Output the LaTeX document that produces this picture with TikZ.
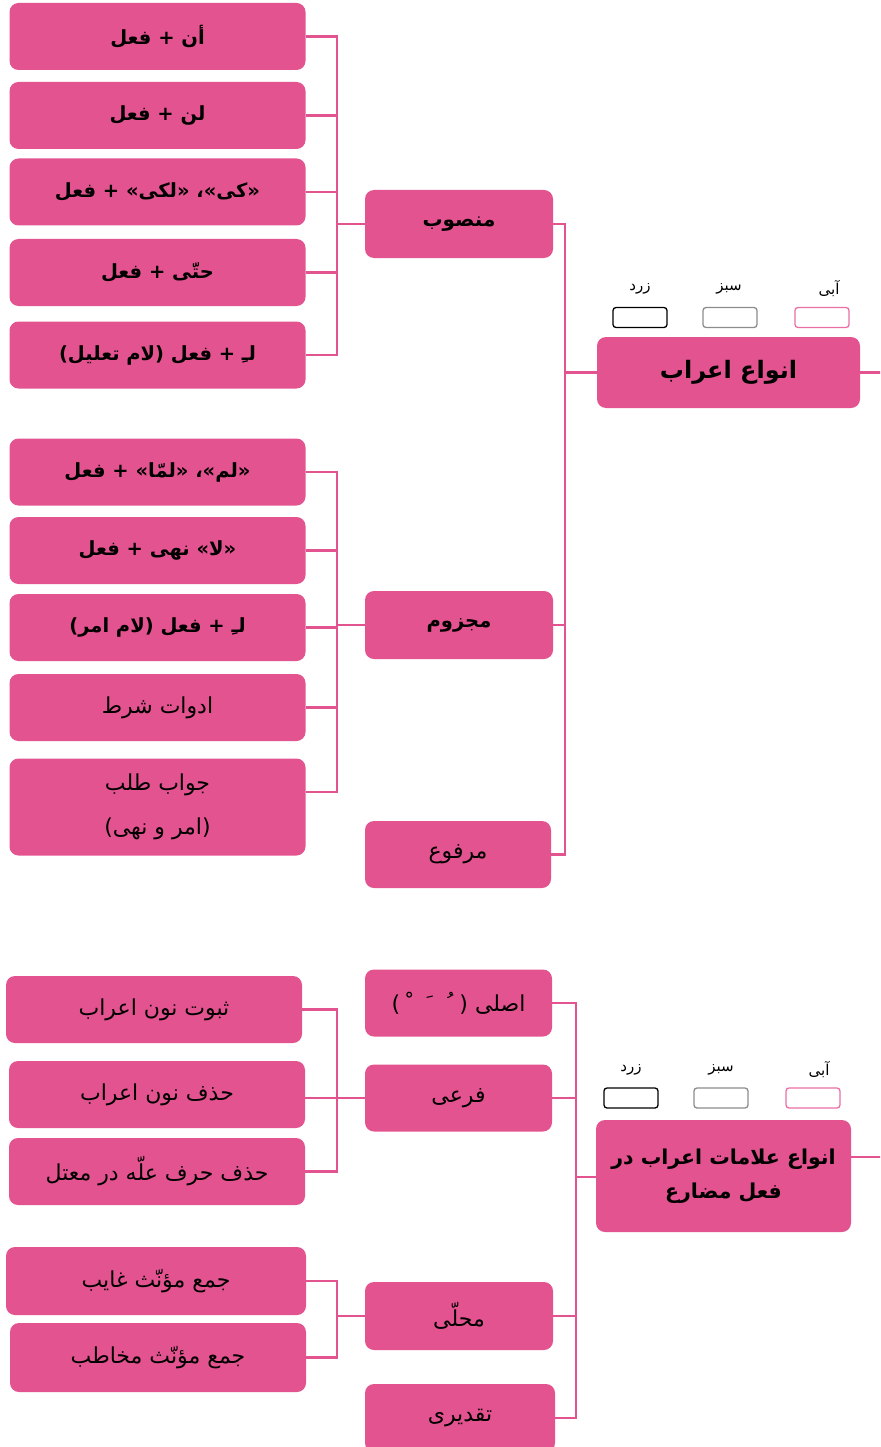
\documentclass[tikz,border=0pt]{standalone}
\usepackage{fontspec}
\TeXXeTstate=1
\newfontfamily\arabicfont[Script=Arabic]{DejaVu Sans}
\newcommand\rl[1]{\beginR #1\endR}
\definecolor{pk}{HTML}{E3538F}
\definecolor{pkl}{HTML}{EA6FA4}
\definecolor{lgray}{HTML}{8C8C8C}
\begin{document}
\begin{tikzpicture}[x=1pt,y=-1pt,
  box/.style={rectangle, rounded corners=9pt, fill=pk, draw=none, inner sep=0pt, align=center, font=\arabicfont\fontsize{22}{44}\selectfont},
  bx/.style={font=\arabicfont\bfseries\fontsize{19.5}{32}\selectfont},
  leaf/.style={box, minimum width=296pt, minimum height=67pt},
  mid/.style={box, minimum width=188pt, minimum height=68pt},
  title/.style={box, font=\arabicfont\bfseries\fontsize{20.5}{34}\selectfont},
  conn/.style={draw=pk, line width=2.5pt},
  legbox/.style={rectangle, rounded corners=3pt, line width=1.3pt, minimum width=54pt, minimum height=20pt, inner sep=0pt},
  leglab/.style={font=\arabicfont\fontsize{15}{16}\selectfont, inner sep=0pt},
]
\useasboundingbox (0,0) rectangle (880,1447);
\clip (0,0) rectangle (880,1447);

% ---------- top section ----------
\node[leaf,bx] (a1) at (157.5,36.5) {\rl{أن + فعل}};
\node[leaf,bx] (a2) at (157.5,115.5) {\rl{لن + فعل}};
\node[leaf,bx] (a3) at (157.5,192) {\rl{«کی»، «لکی» + فعل}};
\node[leaf,bx] (a4) at (157.5,272.5) {\rl{حتّی + فعل}};
\node[leaf,bx] (a5) at (157.5,355) {\rl{لـِ + فعل (لام تعلیل)}};

\node[leaf,bx] (b1) at (157.5,472) {\rl{«لم»، «لمّا» + فعل}};
\node[leaf,bx] (b2) at (157.5,550.5) {\rl{«لا» نهی + فعل}};
\node[leaf,bx] (b3) at (157.5,627.5) {\rl{لـِ + فعل (لام امر)}};
\node[leaf] (b4) at (157.5,707.5) {\rl{ادوات شرط}};
\node[leaf, minimum height=97pt] (b5) at (157.5,807) {\rl{جواب طلب}\\\rl{(امر و نهی)}};

\node[mid,bx,font=\arabicfont\bfseries\fontsize{20}{30}\selectfont] (m1) at (459,224) {\rl{منصوب}};
\node[mid,bx,font=\arabicfont\bfseries\fontsize{19.5}{30}\selectfont] (m2) at (459,625) {\rl{مجزوم}};
\node[mid, minimum width=186pt, minimum height=67pt] (m3) at (458,854.5) {\rl{مرفوع}};

\node[title, font=\arabicfont\bfseries\fontsize{24}{30}\selectfont, minimum width=263pt, minimum height=71pt] (main1) at (728.5,372.5) {\rl{انواع اعراب}};

\node[legbox, draw=black] (y1) at (640,317.5) {};
\node[legbox, draw=lgray] (g1) at (730,317.5) {};
\node[legbox, draw=pkl] (p1) at (822,317.5) {};
\node[leglab] (ly1) at (640,289) {\rl{زرد}};
\node[leglab] (lg1) at (729,289) {\rl{سبز}};
\node[leglab] (lp1) at (829,289) {\rl{آبی}};

\coordinate (bxa) at (337,0);
\coordinate (bxm) at (565,0);
\coordinate (r1) at (885,370);

\draw[conn] (a1.east) -- (a1.east -| bxa) |- (a5.east);
\foreach \n in {a2,a3,a4} \draw[conn] (\n.east) -- (\n.east -| bxa);
\draw[conn] (m1.west) -- (m1.west -| bxa);

\draw[conn] (b1.east) -- (b1.east -| bxa) |- ([yshift=15pt]b5.east);
\foreach \n in {b2,b3,b4} \draw[conn] (\n.east) -- (\n.east -| bxa);
\draw[conn] (m2.west) -- (m2.west -| bxa);

\draw[conn] (m1.east) -- (m1.east -| bxm) |- (m3.east);
\draw[conn] (m2.east) -- (m2.east -| bxm);
\draw[conn] (main1.west) -- (main1.west -| bxm);
\draw[conn] (main1.east) -- (main1.east -| r1);

% ---------- bottom section ----------
\node[leaf] (c1) at (154,1009.5) {\rl{ثبوت نون اعراب}};
\node[leaf] (c2) at (157,1094.5) {\rl{حذف نون اعراب}};
\node[leaf] (c3) at (157,1171.5) {\rl{حذف حرف علّه در معتل}};

\node[leaf, minimum width=300pt, minimum height=68pt] (d1) at (156,1281) {\rl{جمع مؤنّث غایب}};
\node[leaf, minimum height=69pt] (d2) at (158,1357.5) {\rl{جمع مؤنّث مخاطب}};

\node[mid, minimum width=187pt, minimum height=67pt] (o1) at (458.5,1003) {\rl{اصلی (\hspace{6pt}ﹸ\hspace{14pt}ﹶ\hspace{14pt}ﹾ\hspace{6pt})}};
\node[mid, minimum width=187pt, minimum height=67pt] (f) at (458.5,1098) {\rl{فرعی}};
\node[mid] (mh) at (459,1316) {\rl{محلّی}};
\node[mid, minimum width=190pt] (t) at (460,1418) {\rl{تقدیری}};

\node[title, minimum width=255pt, minimum height=112pt] (main2) at (723.5,1176) {\rl{انواع علامات اعراب در}\\\rl{فعل مضارع}};

\node[legbox, draw=black] (y2) at (631,1098) {};
\node[legbox, draw=lgray] (g2) at (721,1098) {};
\node[legbox, draw=pkl] (p2) at (813,1098) {};
\node[leglab] (ly2) at (631,1070) {\rl{زرد}};
\node[leglab] (lg2) at (721,1070) {\rl{سبز}};
\node[leglab] (lp2) at (819,1070) {\rl{آبی}};

\coordinate (bxo) at (576,0);
\coordinate (r2) at (885,1157);

\draw[conn] (c1.east) -- (c1.east -| bxa) |- (c3.east);
\draw[conn] (f.west) -- (f.west -| c2.east);

\draw[conn] (d1.east) -- (d1.east -| bxa) |- (d2.east);
\draw[conn] (mh.west) -- (mh.west -| bxa);

\draw[conn] (o1.east) -- (o1.east -| bxo) |- (t.east);
\draw[conn] (f.east) -- (f.east -| bxo);
\draw[conn] (mh.east) -- (mh.east -| bxo);
\draw[conn] ([yshift=-1pt]main2.west) -- ([yshift=-1pt]main2.west -| bxo);
\draw[conn] ([yshift=19pt]main2.east) -- ([yshift=19pt]main2.east -| r2);
\end{tikzpicture}
\end{document}
